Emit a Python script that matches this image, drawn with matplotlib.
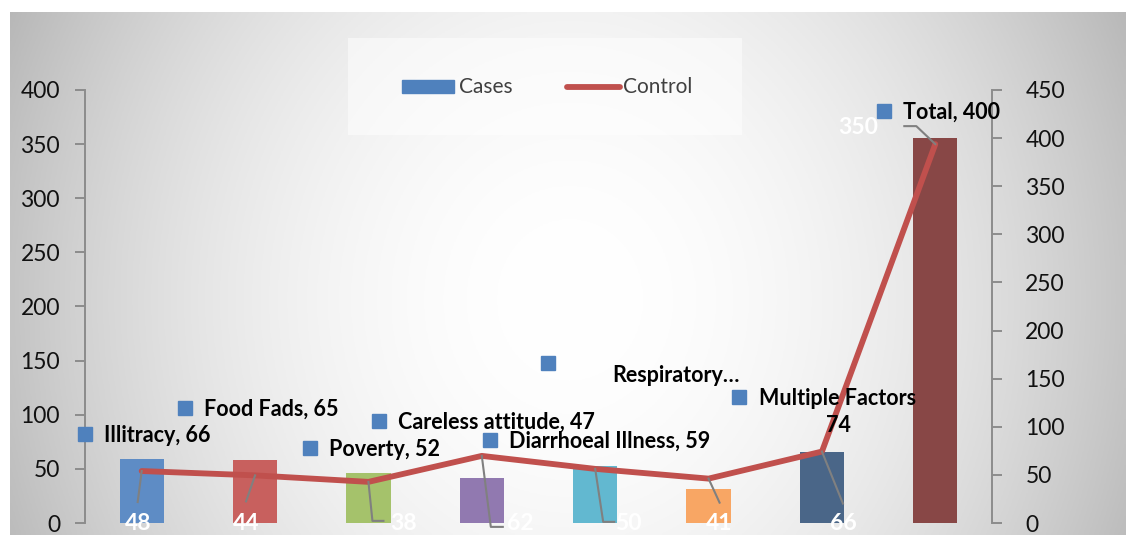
import numpy as np
import matplotlib
matplotlib.use("Agg")
import matplotlib.pyplot as plt
import matplotlib.patches as patches
from matplotlib.lines import Line2D
from matplotlib.transforms import IdentityTransform

plt.rcParams["font.family"] = ["Lato", "DejaVu Sans"]

W, H = 1126, 535

categories = ["Illitracy", "Food Fads", "Poverty", "Careless attitude",
              "Diarrhoeal Illness", "Respiratory…", "Multiple Factors", "Total"]
cases = [66, 65, 52, 47, 59, 35, 74, 400]       # bars, right axis
control = [48, 44, 38, 62, 50, 41, 66, 350]     # line, left axis
left_ticks = list(range(0, 401, 50))
right_ticks = list(range(0, 451, 50))

bar_colors = ["#5E8CC5", "#C8605E", "#A5C26B", "#9179B0",
              "#62B8D0", "#F8A664", "#4A6688", "#884746"]
line_color = "#C0504D"
key_color = "#4F81BD"
axis_gray = "#8C8C8C"


def fx(x):
    return x / W


def fy(y):
    return 1 - y / H


fig = plt.figure(figsize=(W / 100, H / 100), dpi=100)
fig.patch.set_facecolor("white")

# radial grey background of the chart panel
bg = fig.add_axes([fx(10), 0, 1 - fx(10), fy(12)])
gx, gy = np.meshgrid(np.linspace(10, W, 400), np.linspace(12, H, 200))
r2 = ((gx - 570) / 560) ** 2 + ((gy - 300) / 620) ** 2
shade = np.clip(1 - 0.23 * r2, 0, 1)
bg.imshow(np.dstack([shade] * 3), aspect="auto", extent=(0, 1, 0, 1), origin="upper")
bg.axis("off")

# legend panel
fig.patches.append(patches.Rectangle((fx(348), fy(135)), fx(742 - 348), (135 - 38) / H,
                                     transform=fig.transFigure, facecolor="white",
                                     alpha=0.5, edgecolor="none", zorder=1))

ax = fig.add_axes([fx(85), fy(523), fx(992 - 85), (523 - 90) / H])
ax.patch.set_visible(False)
x = np.arange(len(categories))
ax.bar(x, cases, width=0.39, color=bar_colors, zorder=2)
ax.set_ylim(0, 450)
ax.set_yticks(right_ticks)
ax.set_xlim(-0.5, len(categories) - 0.5)
ax.set_xticks([])

ax2 = ax.twinx()
ax2.plot(x, control, color=line_color, lw=4.2, solid_joinstyle="round",
         solid_capstyle="round", zorder=3)
ax2.set_ylim(0, 400)
ax2.set_yticks(left_ticks)

ax.yaxis.tick_right()
ax.yaxis.set_label_position("right")
ax2.yaxis.tick_left()
ax2.yaxis.set_label_position("left")

for a, side, pad in ((ax, "right", 17), (ax2, "left", 11)):
    for s in a.spines.values():
        s.set_visible(False)
    a.spines[side].set_visible(True)
    a.spines[side].set_color(axis_gray)
    a.spines[side].set_linewidth(1.4)
    a.tick_params(axis="y", direction="out", length=7, width=1.4, color=axis_gray,
                  pad=pad, labelsize=16.5, labelcolor="#111111")
    a.tick_params(axis="x", length=0)

# legend entries
fig.patches.append(patches.Rectangle((fx(402), fy(93)), fx(52), 13 / H,
                                     transform=fig.transFigure, color=key_color))
fig.text(fx(459), fy(87), "Cases", fontsize=15, color="#404040", va="center")
fig.add_artist(Line2D([fx(567), fx(620)], [fy(87), fy(87)], transform=fig.transFigure,
                      color=line_color, lw=4.2, solid_capstyle="round"))
fig.text(fx(623), fy(87), "Control", fontsize=15, color="#404040", va="center")

# bar data labels with legend keys (left edge of key, centre y)
label_pos = [(78, 434), (178, 408), (303, 448), (372, 421),
             (483, 440), (541, 363), (732, 397), (877, 111)]
for i, (cat, val) in enumerate(zip(categories, cases)):
    kx, ky = label_pos[i]
    fig.patches.append(patches.Rectangle((fx(kx), fy(ky + 7)), fx(14), 14 / H,
                                         transform=fig.transFigure, color=key_color))
    if cat.endswith("…"):
        fig.text(fx(612), fy(376), cat, fontsize=15.5, fontweight="bold", va="center")
    elif cat == "Multiple Factors":
        fig.text(fx(838), fy(412), f"{cat}\n{val}", fontsize=15.5, fontweight="bold",
                 va="center", ha="center", multialignment="center", linespacing=1.4)
    else:
        fig.text(fx(kx + 26), fy(ky + 1), f"{cat}, {val}", fontsize=15.5,
                 fontweight="bold", va="center")

# line data labels with leader lines (offsets in pixels from each point)
leaders = [[(-4, 31)], [(-9, 26)], [(4, 39), (15, 39)], [(9, 71), (21, 71)],
           [(8, 53), (19, 53)], [(11, 24)], [(21, 52)], [(-19, -18), (-31, -18)]]
value_pos = [(138, 524), (246, 524), (404, 524), (520, 524),
             (628, 524), (719, 524), (843, 524), (858, 127)]
fig.canvas.draw()
for i, val in enumerate(control):
    px, py = ax2.transData.transform((x[i], val))
    xs = [px] + [px + dx for dx, dy in leaders[i]]
    ys = [py] + [py - dy for dx, dy in leaders[i]]
    fig.add_artist(Line2D(xs, ys, transform=IdentityTransform(), color="#808080",
                          lw=1.5, zorder=5))
    tx, ty = value_pos[i]
    fig.text(fx(tx), fy(ty), str(val), fontsize=16.5, fontweight="bold",
             color="white", ha="center", va="center", zorder=6)

fig.savefig("out.png", dpi=100)
